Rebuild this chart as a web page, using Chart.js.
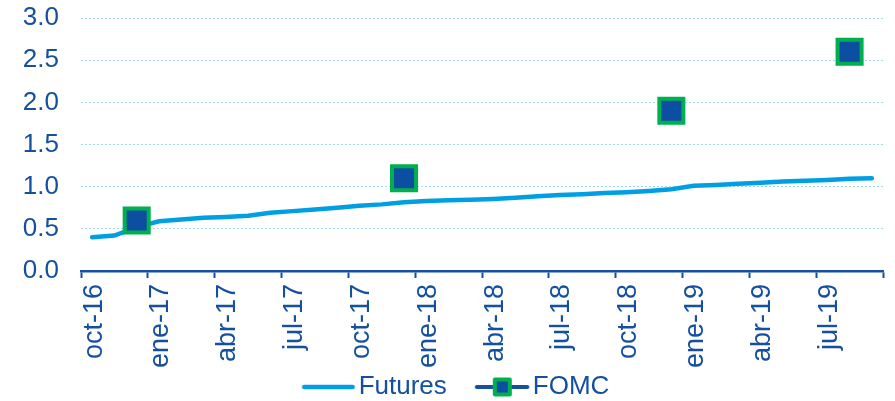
<!DOCTYPE html>
<html>
<head>
<meta charset="utf-8">
<script src="https://cdn.jsdelivr.net/npm/chart.js@4"></script>
<style>
  body { margin: 0; background: #fff; }
  #wrap { width: 895px; height: 401px; position: relative; }
</style>
</head>
<body>
<div id="wrap"><canvas id="ratesChart"></canvas></div>
<script>
const months = ['oct-16','nov-16','dic-16','ene-17','feb-17','mar-17','abr-17','may-17','jun-17',
  'jul-17','ago-17','sep-17','oct-17','nov-17','dic-17','ene-18','feb-18','mar-18','abr-18',
  'may-18','jun-18','jul-18','ago-18','sep-18','oct-18','nov-18','dic-18','ene-19','feb-19',
  'mar-19','abr-19','may-19','jun-19','jul-19','ago-19','sep-19'];

const futures = [0.40,0.42,0.52,0.59,0.61,0.63,0.64,0.655,0.69,0.71,0.73,0.75,
  0.775,0.79,0.815,0.83,0.84,0.845,0.855,0.87,0.885,0.90,0.91,0.925,
  0.935,0.95,0.97,1.01,1.02,1.035,1.045,1.06,1.07,1.08,1.095,1.10];

const fomcMonths = ['dic-16','dic-17','dic-18','ago-19'];
const fomcValues = [0.6, 1.1, 1.9, 2.6];

const yTicks = [0, 0.5, 1, 1.5, 2, 2.5, 3];

const darkBlue = '#1550a0';
const lightBlue = '#009fe3';
const green = '#00b050';
const font = 'Liberation Sans, Arial, sans-serif';

const fomcData = months.map(m => {
  const i = fomcMonths.indexOf(m);
  return i >= 0 ? fomcValues[i] : null;
});

// legend icons (line sample, line + marker)
function icon(draw) {
  const c = document.createElement('canvas');
  c.width = 100; c.height = 24;
  draw(c.getContext('2d'));
  return c;
}
const futuresIcon = icon(ctx => {
  ctx.strokeStyle = lightBlue; ctx.lineWidth = 4.5; ctx.lineCap = 'round';
  ctx.beginPath(); ctx.moveTo(44.5, 12); ctx.lineTo(93, 12); ctx.stroke();
});
const fomcIcon = icon(ctx => {
  ctx.strokeStyle = darkBlue; ctx.lineWidth = 4; ctx.lineCap = 'round';
  ctx.beginPath(); ctx.moveTo(43, 12); ctx.lineTo(93.5, 12); ctx.stroke();
  ctx.fillStyle = green;
  ctx.beginPath(); ctx.roundRect(59, 2.5, 19, 19, 2); ctx.fill();
  ctx.fillStyle = '#0b4ea2';
  ctx.fillRect(63, 6.5, 11, 11);
});

new Chart(document.getElementById('ratesChart'), {
  type: 'line',
  data: {
    labels: months,
    datasets: [{
      label: 'FOMC',
      data: fomcData,
      showLine: false,
      borderColor: darkBlue,
      pointStyle: 'rect',
      pointRadius: 17,
      pointHoverRadius: 17,
      pointBorderWidth: 4,
      pointBackgroundColor: '#0b4ea2',
      pointBorderColor: green
    }, {
      label: 'Futures',
      data: futures,
      borderColor: lightBlue,
      borderWidth: 4.5,
      borderCapStyle: 'round',
      pointRadius: 0,
      tension: 0
    }]
  },
  options: {
    responsive: true,
    maintainAspectRatio: false,
    animation: false,
    layout: { autoPadding: false, padding: { top: 18, right: 12, left: 0, bottom: -9 } },
    scales: {
      x: {
        offset: true,
        grid: {
          drawOnChartArea: false,
          offset: true,
          tickLength: 7,
          tickWidth: 2,
          tickColor: c => (c.type !== 'tick' || c.index % 3 === 0) ? darkBlue : 'rgba(0,0,0,0)'
        },
        border: { color: darkBlue, width: 2.5 },
        ticks: {
          autoSkip: false,
          minRotation: 90,
          maxRotation: 90,
          padding: 6,
          labelOffset: 2,
          color: darkBlue,
          font: { family: font, size: 27 },
          callback: (v, i) => i % 3 === 0 ? months[i] : ''
        },
        afterFit: s => { s.height = 102; s.paddingLeft = 0; s.paddingRight = 0; }
      },
      y: {
        min: 0,
        max: 3,
        afterBuildTicks: s => { s.ticks = yTicks.map(v => ({ value: v })); },
        grid: { color: '#9fdcf2', lineWidth: 1, drawTicks: false },
        border: { display: false, dash: [2, 2] },
        ticks: {
          padding: 22,
          color: darkBlue,
          font: { family: font, size: 26 },
          callback: v => v.toFixed(1)
        },
        afterFit: s => { s.width = 81; s.paddingTop = 0; s.paddingBottom = 0; }
      }
    },
    plugins: {
      tooltip: { enabled: false },
      legend: {
        position: 'bottom',
        labels: {
          usePointStyle: true,
          pointStyleWidth: 72,
          padding: 1,
          color: darkBlue,
          font: { family: font, size: 26 },
          generateLabels: chart => [
            { text: 'Futures', datasetIndex: 1, pointStyle: futuresIcon, fontColor: darkBlue, lineWidth: 0 },
            { text: 'FOMC', datasetIndex: 0, pointStyle: fomcIcon, fontColor: darkBlue, lineWidth: 0 }
          ]
        }
      }
    }
  }
});
</script>
</body>
</html>
